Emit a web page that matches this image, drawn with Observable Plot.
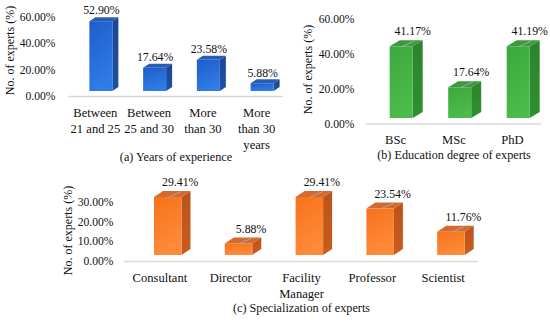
<!DOCTYPE html>
<html><head><meta charset="utf-8">
<script src="https://cdn.jsdelivr.net/npm/d3@7"></script>
<script src="https://cdn.jsdelivr.net/npm/@observablehq/plot@0.6"></script>
<style>
html,body{margin:0;padding:0;background:#fff;}
#wrap{position:relative;width:550px;height:321px;overflow:hidden;background:#fff;}
#wrap svg{position:absolute;left:0;top:0;}
#wrap svg text{font-family:"Liberation Serif","DejaVu Serif",serif !important;}
</style></head><body><div id="wrap"></div>
<script>
// ---- data ----
const yearsCategories = ["Between\n21 and 25", "Between\n25 and 30", "More\nthan 30", "More\nthan 30\nyears"];
const yearsValues = [52.90, 17.64, 23.58, 5.88];
const yearsTicks = [0, 20, 40, 60];

const degreeCategories = ["BSc", "MSc", "PhD"];
const degreeValues = [41.17, 17.64, 41.19];
const degreeTicks = [0, 20, 40, 60];

const specCategories = ["Consultant", "Director", "Facility\nManager", "Professor", "Scientist"];
const specValues = [29.41, 5.88, 29.41, 23.54, 11.76];
const specTicks = [0, 10, 20, 30];

const yTitle = "No. of experts (%)";
const captions = ["(a) Years of experience", "(b) Education degree of experts", "(c) Specialization of experts"];

const FONT = '"Liberation Serif", "DejaVu Serif", serif';
const W = 550, H = 321;

function panel(cfg) {
  const {id, cats, vals, ticks, left, right, zero, top, lift, frontOff, frontW, ddx, ddy,
         labDx, labDy, leader, colors, caption, captionDy, titleDx, titleDy, tickPad} = cfg;
  const n = cats.length;
  const step = (right - left) / n;
  const ymax = ticks[ticks.length - 1];
  const k = (zero - top) / ymax;
  const ux = px => px / step, uy = px => px / k;
  const rows = vals.map((v, i) => {
    const xl = i + ux(frontOff), xr = xl + ux(frontW);
    return {i, v, xl, xr, fc: (xl + xr) / 2};
  });
  const DX = ux(ddx), DY = uy(ddy);
  const side = rows.flatMap(r => [
    {i: r.i, x: r.xr, y1: 0, y2: r.v},
    {i: r.i, x: r.xr + DX, y1: DY, y2: r.v + DY}
  ]);
  const topFace = rows.flatMap(r => [
    {i: r.i, x: r.xl, y1: r.v, y2: r.v},
    {i: r.i, x: r.xl + DX, y1: r.v, y2: r.v + DY},
    {i: r.i, x: r.xr, y1: r.v, y2: r.v + DY},
    {i: r.i, x: r.xr + DX, y1: r.v + DY, y2: r.v + DY}
  ]);
  const shadow = rows.flatMap(r => [
    {i: r.i, x: r.xl - ux(10), y1: 0, y2: 0},
    {i: r.i, x: r.xl, y1: -uy(1), y2: uy(6)},
    {i: r.i, x: r.xr + DX, y1: -uy(1), y2: uy(6)},
    {i: r.i, x: r.xr + DX + ux(11), y1: 0, y2: 0}
  ]);
  const svg = Plot.plot({
    width: W, height: H,
    marginLeft: left, marginRight: W - right, marginTop: top, marginBottom: H - zero,
    x: {type: "linear", domain: [-0.5, n - 0.5], axis: null},
    y: {domain: [0, ymax], axis: null},
    style: {background: "transparent", fontFamily: FONT, fontSize: "12px", color: "#111", overflow: "visible"},
    marks: [
      Plot.ruleY([0], {stroke: "#d9d9d9", strokeWidth: 1.3}),
      Plot.axisY({ticks, tickSize: 0, tickPadding: tickPad, tickFormat: d => d.toFixed(2) + "%", fontSize: 11.6, fontFamily: FONT}),
      Plot.axisX({ticks: d3.range(n), tickSize: 0, tickPadding: 9, tickFormat: d => cats[d], lineHeight: 1.26, fontSize: 12.6, fontFamily: FONT}),
      Plot.area(shadow, {x1: "x", y1: "y1", y2: "y2", z: "i", fill: "#2a2a2a", fillOpacity: 0.75, dy: -lift, ariaLabel: "shadow"}),
      Plot.area(side, {x1: "x", y1: "y1", y2: "y2", z: "i", fill: `url(#${id}-side)`, dy: -lift}),
      Plot.area(topFace, {x1: "x", y1: "y1", y2: "y2", z: "i", fill: colors.top, dy: -lift}),
      Plot.rect(rows, {x1: "xl", x2: "xr", y1: () => 0, y2: "v", dy: -lift, fill: `url(#${id}-front)`}),
      leader ? Plot.link(rows, {x1: "fc", y1: "v", x2: r => r.fc + ux(13), y2: r => r.v + uy(6), dy: -lift, stroke: "#a8a8a8", strokeWidth: 1}) : null,
      Plot.text(rows, {x: r => r.fc + ux(labDx), y: "v", dy: -lift + labDy, text: r => r.v.toFixed(2) + "%", fontSize: 11.8, fontFamily: FONT, fill: "#111"}),
      Plot.text([yTitle], {frameAnchor: "left", textAnchor: "middle", dx: titleDx, dy: titleDy, rotate: -90, fontSize: 12, fontFamily: FONT, fill: "#111"}),
      Plot.text([caption], {frameAnchor: "bottom", textAnchor: "middle", dy: captionDy, fontSize: 12.2, fontFamily: FONT, fill: "#111"})
    ].filter(Boolean)
  });
  const defs = d3.select(svg).insert("defs", ":first-child");
  const fg = defs.append("linearGradient").attr("id", `${id}-front`).attr("x1", 0).attr("y1", 0).attr("x2", 0.3).attr("y2", 1);
  fg.append("stop").attr("offset", "0%").attr("stop-color", colors.front[0]);
  fg.append("stop").attr("offset", "100%").attr("stop-color", colors.front[1]);
  const sg = defs.append("linearGradient").attr("id", `${id}-side`).attr("x1", 0).attr("y1", 0).attr("x2", 0).attr("y2", 1);
  sg.append("stop").attr("offset", "0%").attr("stop-color", colors.side[0]);
  sg.append("stop").attr("offset", "100%").attr("stop-color", colors.side[1]);
  const f = defs.append("filter").attr("id", `${id}-blur`).attr("x", "-20%").attr("y", "-100%").attr("width", "140%").attr("height", "300%");
  f.append("feGaussianBlur").attr("stdDeviation", 1.6);
  const sh = svg.querySelector('g[aria-label="shadow"]');
  if (sh) sh.setAttribute("filter", `url(#${id}-blur)`);
  document.getElementById("wrap").appendChild(svg);
}

panel({
  id: "pa", cats: yearsCategories, vals: yearsValues, ticks: yearsTicks,
  left: 68, right: 283, zero: 96, top: 16.8, lift: 5,
  frontOff: -5.5, frontW: 23, ddx: 6, ddy: 4,
  labDx: 0, labDy: -11, leader: false, tickPad: 13,
  colors: {front: ["#1f5dc9", "#2f7ce4"], side: ["#1b4791", "#1d51a6"], top: "#2a5cb2"},
  caption: captions[0], captionDy: 64, titleDx: -58, titleDy: -6.4
});
panel({
  id: "pb", cats: degreeCategories, vals: degreeValues, ticks: degreeTicks,
  left: 365.75, right: 541.25, zero: 123.5, top: 19, lift: 5.5,
  frontOff: -5.3, frontW: 23, ddx: 10, ddy: 6,
  labDx: 11, labDy: -16, leader: true, tickPad: 11.75,
  colors: {front: ["#3aa83a", "#4cbb4c"], side: ["#2c842c", "#2f902f"], top: "#3b9b3b"},
  caption: captions[1], captionDy: 34.5, titleDx: -57.75, titleDy: -2.25
});
panel({
  id: "pc", cats: specCategories, vals: specValues, ticks: specTicks,
  left: 124, right: 478, zero: 261, top: 201.8, lift: 6,
  frontOff: -5.4, frontW: 27.5, ddx: 9, ddy: 6,
  labDx: 12, labDy: -15, leader: true, tickPad: 11,
  colors: {front: ["#f7721b", "#ff8a3a"], side: ["#bb531a", "#c95c1d"], top: "#d46a2e"},
  caption: captions[2], captionDy: 50, titleDx: -56, titleDy: -1.4
});
</script>
</body></html>
